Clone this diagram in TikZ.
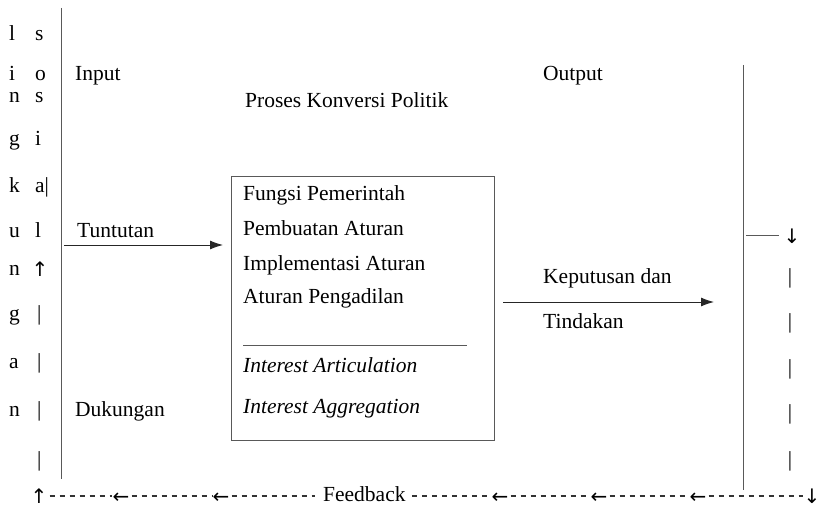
\documentclass[tikz,border=0pt]{standalone}
\usepackage{fontspec}
\setmainfont{Liberation Serif}
\newfontfamily\arrfont{DejaVu Sans}
\usetikzlibrary{arrows.meta}
\begin{document}
\begin{tikzpicture}[x=1pt,y=-1pt,
  txt/.style={anchor=base west,inner sep=0pt,font=\fontsize{21.5}{24}\selectfont},
  glyph/.style={anchor=base,inner sep=0pt,font=\fontsize{21.5}{24}\selectfont},
  arrg/.style={anchor=base,inner sep=0pt,font=\arrfont\fontsize{20}{22}\selectfont},
  ln/.style={draw=black!65,line width=0.9pt},
  arr/.style={draw=black!85,line width=0.9pt,-{Latex[length=13pt,width=9pt]}},
  fb/.style={draw=black!80,line width=1.3pt,dash pattern=on 5pt off 5pt}]
\useasboundingbox (0,0) rectangle (820,513);
% left column letters
\foreach \t/\y [count=\i] in {l/41,i/81,n/103,g/146,k/193,u/238,n/276,g/321,a/368,n/416}
  \node[txt] (la\i) at (9,\y) {\t};
\foreach \t/\y [count=\i] in {s/41,o/81,s/103,i/146,a|/193,l/238}
  \node[txt] (lb\i) at (35,\y) {\t};
\node[arrg] (lup) at (40,277) {↑};
\foreach \y [count=\i] in {321,368,416,466}
  \node[txt] (lv\i) at (37,\y) {|};
% main vertical lines
\coordinate (lt) at (61,8); \coordinate (lbt) at (61,479);
\draw[ln] (lt) -- (lbt);
\coordinate (rt) at (743,65); \coordinate (rb) at (743,490);
\draw[ln] (rt) -- (rb);
% headings
\node[txt] (input) at (75,81) {Input};
\node[txt] (output) at (543,81) {Output};
\node[txt] (proses) at (245,108) {Proses Konversi Politik};
% box
\node[draw=black!65,line width=0.9pt,anchor=north west,minimum width=263pt,minimum height=264pt,inner sep=0pt] (box) at (231,176) {};
\node[txt] (f1) at (243,201) {Fungsi Pemerintah};
\node[txt] (f2) at (243,236) {Pembuatan Aturan};
\node[txt] (f3) at (243,271) {Implementasi Aturan};
\node[txt] (f4) at (243,304) {Aturan Pengadilan};
\coordinate (s1) at (243,345); \coordinate (s2) at (467,345);
\draw[ln] (s1) -- (s2);
\node[txt] (f5) at (243,373) {\itshape Interest Articulation};
\node[txt] (f6) at (243,413) {\itshape Interest Aggregation};
% input side
\node[txt] (tunt) at (77,238) {Tuntutan};
\coordinate (ta) at (64,245); \coordinate (tb) at (223,245);
\draw[arr] (ta) -- (tb);
\node[txt] (duk) at (75,416) {Dukungan};
% output side
\node[txt] (kep) at (543,284) {Keputusan dan};
\node[txt] (tind) at (543,329) {Tindakan};
\coordinate (ka) at (503,302); \coordinate (kb) at (714,302);
\draw[arr] (ka) -- (kb);
% right feedback column
\coordinate (ha) at (746,235); \coordinate (hb) at (779,235);
\draw[ln] (ha) -- (hb);
\node[arrg] (rd0) at (792,244) {↓};
\foreach \y [count=\i] in {284,329,374,419,466}
  \node[glyph] (rd\i) at (790,\y) {|};
% feedback row
\node[arrg] (fup) at (39,503) {↑};
\node[txt] (fbk) at (323,501) {Feedback};
\foreach \x [count=\i] in {121,221,500,599,698}
  \node[arrg] (fa\i) at (\x,503) {←};
\node[arrg] (fdn) at (812,503) {↓};
\draw[fb] (fup.east |- 0,496) ++(2,0) -- (fa1.west |- 0,496);
\draw[fb] (fa1.east |- 0,496) ++(2,0) -- (fa2.west |- 0,496);
\draw[fb] (fa2.east |- 0,496) ++(2,0) -- ([xshift=-8pt]fbk.west |- 0,496);
\draw[fb] (fbk.east |- 0,496) ++(6,0) -- (fa3.west |- 0,496);
\draw[fb] (fa3.east |- 0,496) ++(2,0) -- (fa4.west |- 0,496);
\draw[fb] (fa4.east |- 0,496) ++(2,0) -- (fa5.west |- 0,496);
\draw[fb] (fa5.east |- 0,496) ++(2,0) -- (fdn.west |- 0,496);
\end{tikzpicture}
\end{document}
